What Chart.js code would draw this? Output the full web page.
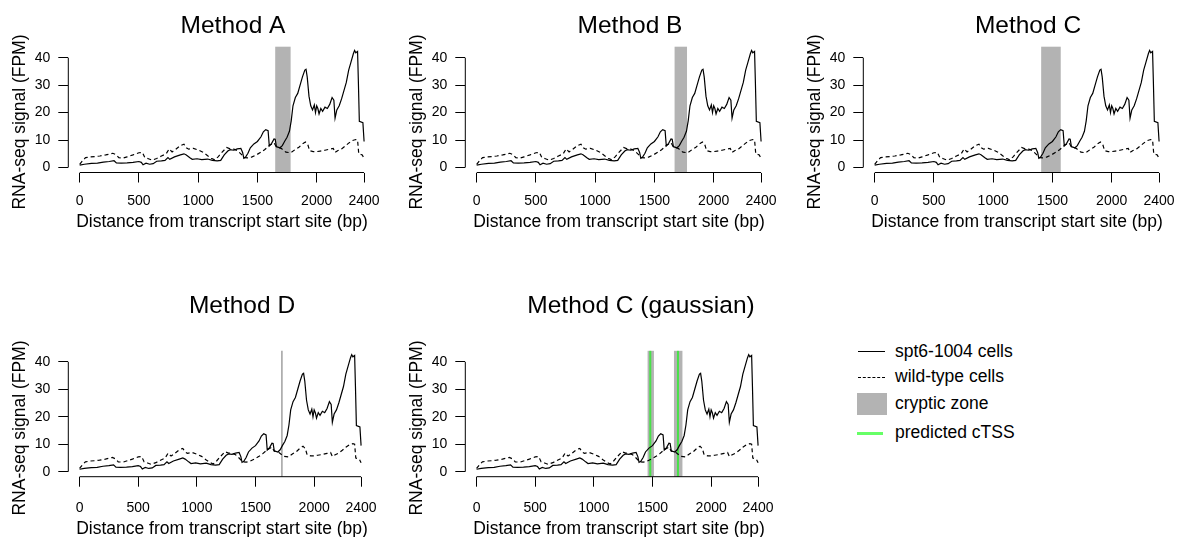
<!DOCTYPE html>
<html>
<head>
<meta charset="utf-8">
<script src="https://cdn.jsdelivr.net/npm/chart.js@4.4.0/dist/chart.umd.min.js"></script>
<style>
  html, body { margin: 0; padding: 0; background: #fff; overflow: hidden; }
  body { width: 1184px; height: 537px; position: relative; font-family: "Liberation Sans", Arial, sans-serif; }
  .panel { position: absolute; width: 390px; }
  .leg-text { position: absolute; left: 895px; font-size: 17.5px; line-height: 20px; color: #000; white-space: nowrap; }
  .leg-key { position: absolute; }
</style>
</head>
<body>
<div class="panel" style="left:0px;top:0px;height:260px"><canvas id="pA"></canvas></div>
<div class="panel" style="left:397.3px;top:0px;height:260px"><canvas id="pB"></canvas></div>
<div class="panel" style="left:794.6px;top:0px;height:260px"><canvas id="pC"></canvas></div>
<div class="panel" style="left:0px;top:280px;height:257px"><canvas id="pD"></canvas></div>
<div class="panel" style="left:397.3px;top:280px;height:257px"><canvas id="pE"></canvas></div>

<!-- legend -->
<div class="leg-key" style="left:858px;top:351px;width:27px;border-top:1.2px solid #000"></div>
<div class="leg-text" style="top:340.7px">spt6-1004 cells</div>
<div class="leg-key" style="left:858px;top:376.7px;width:27px;border-top:1.2px dashed #000"></div>
<div class="leg-text" style="top:365.7px">wild-type cells</div>
<div class="leg-key" style="left:856.7px;top:392.7px;width:30.6px;height:22.3px;background:#b3b3b3"></div>
<div class="leg-text" style="top:393.3px">cryptic zone</div>
<div class="leg-key" style="left:857px;top:431.7px;width:26px;height:3.2px;background:rgba(0,255,0,0.6)"></div>
<div class="leg-text" style="top:422.3px">predicted cTSS</div>

<script>
// axis ticks
const xTicks = [0, 500, 1000, 1500, 2000, 2400];
const yTicks = [0, 10, 20, 30, 40];

// spt6-1004 cells (solid), position in bp and signal in FPM
const spt6Pos = [
  0, 40, 100, 150, 200, 250, 290, 310, 350, 400,
  450, 500, 520, 535, 560, 590, 620, 650, 690, 720,
  745, 760, 800, 850, 880, 900, 930, 950, 990, 1030,
  1080, 1120, 1160, 1190, 1220, 1250, 1270, 1300, 1330, 1360,
  1375, 1385, 1400, 1420, 1440, 1470, 1500, 1530, 1550, 1570,
  1590, 1600, 1620, 1640, 1650, 1660, 1690, 1710, 1730, 1750,
  1770, 1785, 1800, 1820, 1840, 1860, 1880, 1900, 1910, 1920,
  1935, 1950, 1965, 1980, 1990, 2000, 2010, 2020, 2035, 2050,
  2070, 2090, 2110, 2130, 2145, 2155, 2170, 2190, 2210, 2230,
  2250, 2270, 2290, 2310, 2320, 2330, 2345, 2352, 2360, 2390,
  2400
];
const spt6Signal = [
  0.9, 1.2, 1.5, 1.6, 2.0, 2.2, 2.5, 1.7, 1.6, 1.7,
  1.9, 2.2, 1.9, 1.0, 1.6, 1.2, 1.4, 2.3, 2.4, 2.6,
  3.6, 3.0, 3.9, 4.6, 5.0, 4.6, 3.6, 3.0, 3.2, 2.9,
  3.1, 2.6, 2.4, 2.6, 4.6, 6.0, 6.5, 6.3, 6.8, 7.0,
  5.5, 3.4, 3.8, 5.2, 7.2, 8.6, 9.5, 11.2, 13.0, 13.8,
  13.4, 7.9, 8.8, 10.4, 10.3, 7.6, 7.2, 8.0, 9.6, 11.0,
  13.2, 17.0, 22.5, 25.5, 27.0, 30.0, 33.0, 35.5, 35.8, 33.0,
  26.0, 22.5, 21.0, 22.8, 20.0, 22.5, 21.5, 19.5, 21.5, 20.5,
  22.0, 21.5, 23.0, 25.5, 24.5, 18.0, 21.0, 22.5, 25.0, 28.0,
  31.0, 35.5, 38.5, 41.5, 42.6, 41.8, 42.3, 31.0, 16.8, 16.3,
  9.5
];

// wild-type cells (dashed)
const wtPos = [
  0, 30, 50, 90, 130, 170, 220, 280, 310, 330,
  370, 400, 450, 500, 530, 550, 580, 610, 650, 690,
  730, 755, 780, 810, 850, 880, 900, 920, 960, 1000,
  1040, 1080, 1110, 1140, 1170, 1200, 1240, 1270, 1300, 1330,
  1360, 1390, 1420, 1450, 1490, 1530, 1560, 1600, 1640, 1660,
  1700, 1740, 1780, 1820, 1850, 1880, 1905, 1925, 1940, 1970,
  2000, 2030, 2070, 2110, 2140, 2155, 2180, 2210, 2240, 2270,
  2300, 2330, 2345, 2355, 2385, 2400
];
const wtSignal = [
  1.2, 2.8, 3.6, 3.9, 4.0, 4.2, 4.6, 5.2, 4.6, 3.6,
  3.5, 3.9, 4.6, 5.4, 5.5, 3.6, 3.2, 2.7, 3.3, 4.2,
  5.0, 6.8, 5.7, 6.6, 8.0, 8.5, 7.2, 6.7, 7.0, 6.4,
  5.6, 4.3, 3.4, 2.8, 4.0, 5.5, 7.3, 6.8, 6.7, 6.2,
  5.0, 3.6, 3.5, 3.8, 4.6, 5.6, 6.5, 8.0, 9.0, 7.5,
  7.0, 5.6, 5.4, 6.6, 7.4, 8.6, 9.3, 8.4, 6.2, 5.8,
  5.8, 6.0, 6.3, 6.7, 7.0, 5.5, 6.2, 6.8, 7.8, 8.9,
  9.8, 10.2, 10.0, 5.0, 4.6, 3.3
];

// cryptic zones (bp) per method, and predicted sites
const zonesA = [[1650, 1780]];
const zonesB = [[1670, 1775]];
const zonesC = [[1405, 1570]];
const markD = [1725];
const zonesGauss = [[1458, 1512], [1683, 1755]];
const ctssGauss = [1481, 1717];

const FONT = '"Liberation Sans", Arial, Helvetica, sans-serif';
const ZONE_COLOR = '#b3b3b3';

function toPoints(xs, ys) {
  return xs.map((x, i) => ({ x: x, y: ys[i] }));
}

// R base-graphics look: zones behind lines, axis lines only between end ticks, titles
const rStyle = {
  id: 'rStyle',
  beforeDatasetsDraw(chart, args, o) {
    const { ctx, chartArea: a, scales: { x } } = chart;
    ctx.save();
    (o.zones || []).forEach(z => {
      const x0 = x.getPixelForValue(z[0]);
      const x1 = x.getPixelForValue(z[1]);
      ctx.fillStyle = ZONE_COLOR;
      ctx.fillRect(x0, a.top, x1 - x0, a.bottom - a.top);
    });
    (o.marks || []).forEach(m => {
      const px = x.getPixelForValue(m);
      ctx.strokeStyle = '#a0a0a0';
      ctx.lineWidth = 1.5;
      ctx.beginPath(); ctx.moveTo(px, a.top); ctx.lineTo(px, a.bottom); ctx.stroke();
    });
    (o.ctss || []).forEach(m => {
      const px = x.getPixelForValue(m);
      ctx.strokeStyle = 'rgba(0,255,0,0.6)';
      ctx.lineWidth = 2;
      ctx.beginPath(); ctx.moveTo(px, a.top); ctx.lineTo(px, a.bottom); ctx.stroke();
    });
    ctx.restore();
  },
  afterDraw(chart, args, o) {
    const { ctx, chartArea: a, scales: { x, y } } = chart;
    ctx.save();
    ctx.strokeStyle = '#000';
    ctx.lineWidth = 1;
    ctx.beginPath();
    ctx.moveTo(x.getPixelForValue(xTicks[0]), a.bottom);
    ctx.lineTo(x.getPixelForValue(xTicks[xTicks.length - 1]), a.bottom);
    ctx.moveTo(a.left, y.getPixelForValue(yTicks[0]));
    ctx.lineTo(a.left, y.getPixelForValue(yTicks[yTicks.length - 1]));
    ctx.stroke();

    ctx.fillStyle = '#000';
    ctx.textBaseline = 'alphabetic';
    ctx.textAlign = 'center';
    ctx.font = '24.5px ' + FONT;
    ctx.fillText(o.title, o.titleX, 33);

    ctx.font = '17.5px ' + FONT;
    ctx.fillText('Distance from transcript start site (bp)', 222, a.bottom + o.xTitleGap);

    ctx.translate(24.5, o.yTitleY);
    ctx.rotate(-Math.PI / 2);
    ctx.fillText('RNA-seq signal (FPM)', 0, 0);
    ctx.restore();
  }
};

function makePanel(id, cfg) {
  const H = cfg.h;
  new Chart(document.getElementById(id), {
    type: 'line',
    data: {
      datasets: [
        {
          label: 'spt6-1004 cells',
          data: toPoints(spt6Pos, spt6Signal),
          borderColor: '#000',
          borderWidth: 1.2,
          pointRadius: 0,
          tension: 0
        },
        {
          label: 'wild-type cells',
          data: toPoints(wtPos, wtSignal),
          borderColor: '#000',
          borderWidth: 1.2,
          borderDash: [4, 3],
          pointRadius: 0,
          tension: 0
        }
      ]
    },
    options: {
      responsive: true,
      maintainAspectRatio: false,
      animation: false,
      events: [],
      layout: { padding: { top: cfg.plotTop, left: 0, right: 390 - 380.7, bottom: 0 } },
      plugins: {
        legend: { display: false },
        tooltip: { enabled: false },
        rStyle: {
          title: cfg.title,
          titleX: cfg.titleX,
          yTitleY: cfg.yTitleY,
          xTitleGap: cfg.xTitleGap,
          zones: cfg.zones,
          marks: cfg.marks,
          ctss: cfg.ctss
        }
      },
      scales: {
        x: {
          type: 'linear',
          min: -96,
          max: 2496,
          afterBuildTicks: s => { s.ticks = xTicks.map(v => ({ value: v })); },
          afterFit: s => { s.height = H - cfg.plotBottom; },
          grid: { drawOnChartArea: false, drawTicks: true, tickLength: 10, color: '#000', lineWidth: 1 },
          border: { display: false },
          ticks: {
            color: '#000',
            font: { family: FONT, size: 14 },
            padding: cfg.xTickPad,
            maxRotation: 0,
            autoSkip: false,
            callback: v => String(v)
          }
        },
        y: {
          min: -1.8,
          max: 44.0,
          afterBuildTicks: s => { s.ticks = yTicks.map(v => ({ value: v })); },
          afterFit: s => { s.width = 68.3; },
          grid: { drawOnChartArea: false, drawTicks: true, tickLength: 10, color: '#000', lineWidth: 1 },
          border: { display: false },
          ticks: {
            color: '#000',
            font: { family: FONT, size: 14 },
            padding: 8,
            autoSkip: false,
            callback: v => String(v)
          }
        }
      }
    },
    plugins: [rStyle]
  });
}

const row1 = { h: 260, plotTop: 46.7, plotBottom: 172.5, yTitleY: 122, xTickPad: 10, xTitleGap: 54 };
const row2 = { h: 257, plotTop: 70.8, plotBottom: 196.7, yTitleY: 148, xTickPad: 13, xTitleGap: 57 };

makePanel('pA', Object.assign({}, row1, { title: 'Method A', titleX: 233, zones: zonesA }));
makePanel('pB', Object.assign({}, row1, { title: 'Method B', titleX: 233, zones: zonesB }));
makePanel('pC', Object.assign({}, row1, { title: 'Method C', titleX: 233, zones: zonesC }));
makePanel('pD', Object.assign({}, row2, { title: 'Method D', titleX: 242, marks: markD }));
makePanel('pE', Object.assign({}, row2, { title: 'Method C (gaussian)', titleX: 244, zones: zonesGauss, ctss: ctssGauss }));
</script>
</body>
</html>
